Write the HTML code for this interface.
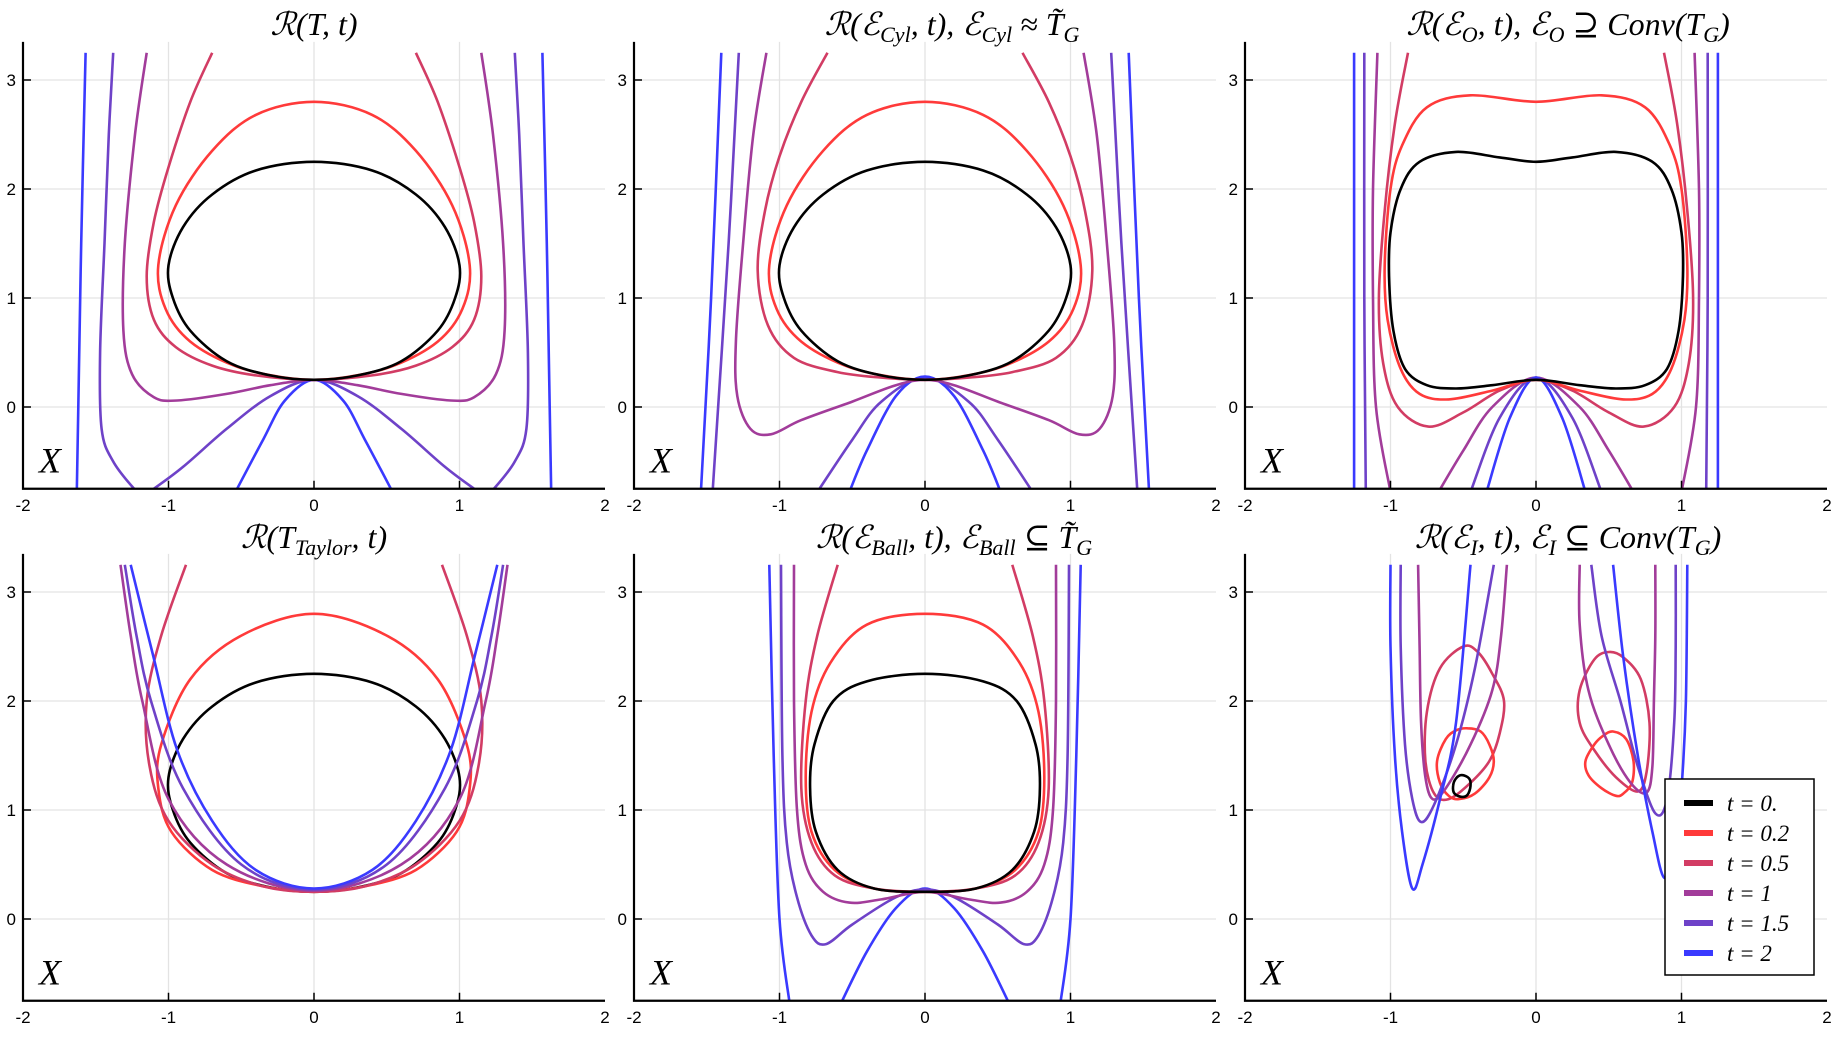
<!DOCTYPE html>
<html><head><meta charset="utf-8">
<style>
html,body{margin:0;padding:0;background:#fff;}
svg{display:block;}
.tick{font-family:"Liberation Sans",sans-serif;font-size:17px;fill:#000;}
.title{font-family:"Liberation Serif","DejaVu Serif",serif;font-style:italic;font-size:32px;fill:#000;}
.xl{font-family:"Liberation Serif","DejaVu Serif",serif;font-style:italic;font-size:36px;fill:#000;}
.leg{font-family:"Liberation Serif","DejaVu Serif",serif;font-style:italic;font-size:23px;fill:#000;}
</style></head>
<body>
<svg id="chart" width="1841" height="1040" viewBox="0 0 1841 1040" xmlns="http://www.w3.org/2000/svg"></svg>
<script>
// ---- data ----
const seriesLabels = ["t = 0.", "t = 0.2", "t = 0.5", "t = 1", "t = 1.5", "t = 2"];
const seriesColors = ["#000000", "#ff3a3a", "#d23c64", "#a23c9a", "#6e42c8", "#3a3aff"];
const xTicks = [-2, -1, 0, 1, 2];
const yTicks = [0, 1, 2, 3];

// Panel 1: R(T,t)  (half curves, mirrored about x=0)
const p1t0 = [[0,2.25],[0.4,2.17],[0.7,1.95],[0.9,1.65],[1.0,1.3],[0.97,1.0],[0.85,0.7],[0.6,0.42],[0.3,0.29],[0,0.25]];
const p1t02 = [[0,2.8],[0.4,2.68],[0.7,2.35],[0.95,1.85],[1.07,1.3],[1.02,0.9],[0.85,0.6],[0.55,0.38],[0.25,0.28],[0,0.25]];
const p1t05 = [[0,0.25],[0.4,0.29],[0.7,0.38],[0.95,0.55],[1.1,0.8],[1.15,1.2],[1.1,1.7],[1.0,2.2],[0.85,2.8],[0.7,3.25]];
const p1t1 = [[0,0.25],[0.3,0.2],[0.6,0.12],[0.94,0.06],[1.1,0.09],[1.25,0.3],[1.31,0.7],[1.3,1.5],[1.23,2.5],[1.15,3.25]];
const p1t15 = [[0,0.25],[0.3,0.1],[0.6,-0.2],[0.9,-0.55],[1.11,-0.76],[1.17,-0.82],[1.23,-0.76],[1.38,-0.5],[1.46,-0.2],[1.47,0.5],[1.44,1.5],[1.41,2.5],[1.38,3.25]];
const p1t2in = [[0,0.25],[0.2,0.06],[0.35,-0.3],[0.54,-0.78]];
const p1t2out = [[1.57,3.25],[1.6,1.5],[1.62,0],[1.63,-0.78]];

// Panel 2: R(E_Cyl,t)
const p2t0 = [[0,2.25],[0.4,2.17],[0.7,1.95],[0.9,1.65],[1.0,1.3],[0.97,1.0],[0.85,0.7],[0.6,0.42],[0.3,0.29],[0,0.25]];
const p2t02 = [[0,2.8],[0.4,2.68],[0.7,2.35],[0.95,1.85],[1.07,1.3],[1.02,0.9],[0.85,0.6],[0.55,0.38],[0.25,0.28],[0,0.25]];
const p2t05 = [[0,0.25],[0.3,0.27],[0.6,0.32],[0.9,0.45],[1.08,0.75],[1.15,1.25],[1.1,1.8],[1.0,2.3],[0.85,2.8],[0.67,3.25]];
const p2t1 = [[0,0.25],[0.2,0.2],[0.5,0.05],[0.85,-0.12],[1.06,-0.25],[1.2,-0.2],[1.29,0.1],[1.30,0.6],[1.25,1.5],[1.18,2.5],[1.09,3.25]];
const p2t15in = [[0,0.27],[0.3,0.05],[0.5,-0.3],[0.74,-0.78]];
const p2t15out = [[1.28,3.25],[1.35,1.5],[1.46,-0.78]];
const p2t2in = [[0,0.28],[0.2,0.1],[0.4,-0.4],[0.52,-0.78]];
const p2t2out = [[1.40,3.25],[1.47,1.0],[1.54,-0.78]];

// Panel 3: R(E_O,t)
const p3t0 = [[0,2.25],[0.25,2.29],[0.55,2.34],[0.8,2.25],[0.93,2.0],[1.0,1.6],[1.01,1.2],[0.98,0.7],[0.9,0.35],[0.75,0.2],[0.55,0.17],[0.3,0.2],[0,0.25]];
const p3t02 = [[0,2.8],[0.45,2.86],[0.75,2.75],[0.92,2.4],[1.0,2.0],[1.04,1.3],[1.02,0.8],[0.93,0.35],[0.8,0.12],[0.6,0.07],[0.3,0.15],[0,0.25]];
const p3t05 = [[0,0.25],[0.25,0.15],[0.5,-0.05],[0.74,-0.18],[0.95,0.0],[1.05,0.4],[1.08,1.0],[1.04,1.8],[0.97,2.6],[0.88,3.25]];
const p3t1in = [[0,0.27],[0.3,0.0],[0.5,-0.4],[0.67,-0.78]];
const p3t1out = [[1.09,3.25],[1.12,2.0],[1.12,1.0],[1.1,0],[1.0,-0.78]];
const p3t15in = [[0,0.27],[0.25,-0.1],[0.45,-0.78]];
const p3t15out = [[1.18,3.25],[1.18,1.0],[1.17,-0.78]];
const p3t2in = [[0,0.27],[0.18,-0.1],[0.34,-0.78]];
const p3t2out = [[1.25,3.25],[1.25,1.0],[1.25,-0.78]];

// Panel 4: R(T_Taylor,t)
const p4t0 = [[0,2.25],[0.4,2.17],[0.7,1.95],[0.9,1.65],[1.0,1.3],[0.97,1.0],[0.85,0.7],[0.6,0.42],[0.3,0.29],[0,0.25]];
const p4t02 = [[0,2.8],[0.5,2.6],[0.85,2.2],[1.05,1.6],[1.07,1.2],[0.98,0.8],[0.7,0.45],[0.35,0.3],[0,0.25]];
const p4t05 = [[0,0.25],[0.35,0.3],[0.7,0.5],[1.0,0.9],[1.13,1.4],[1.15,2.0],[1.05,2.6],[0.88,3.25]];
const p4t1 = [[0,0.26],[0.6,0.5],[1.0,1.1],[1.18,2.0],[1.26,2.6],[1.33,3.25]];
const p4t15 = [[0,0.27],[0.5,0.5],[0.9,1.2],[1.12,2.0],[1.22,2.6],[1.30,3.25]];
const p4t2 = [[0,0.28],[0.4,0.45],[0.7,0.9],[0.94,1.55],[1.11,2.44],[1.26,3.25]];

// Panel 5: R(E_Ball,t)
const p5t0 = [[0,2.25],[0.4,2.18],[0.63,2.0],[0.76,1.6],[0.79,1.2],[0.75,0.8],[0.6,0.45],[0.35,0.28],[0,0.25]];
const p5t02 = [[0,2.8],[0.4,2.7],[0.65,2.35],[0.78,1.9],[0.82,1.3],[0.78,0.8],[0.62,0.45],[0.35,0.28],[0,0.25]];
const p5t05 = [[0,0.25],[0.35,0.28],[0.62,0.4],[0.78,0.7],[0.85,1.2],[0.82,2.0],[0.74,2.6],[0.6,3.25]];
const p5t1 = [[0,0.25],[0.3,0.18],[0.52,0.15],[0.7,0.25],[0.82,0.5],[0.88,1.0],[0.9,2.0],[0.9,3.25]];
const p5t15 = [[0,0.27],[0.2,0.2],[0.5,-0.05],[0.68,-0.23],[0.78,-0.15],[0.88,0.2],[0.95,0.7],[0.98,1.5],[0.99,3.25]];
const p5t2in = [[0,0.28],[0.2,0.1],[0.4,-0.3],[0.58,-0.78]];
const p5t2out = [[1.07,3.25],[1.04,1.5],[1.0,0],[0.93,-0.78]];

// Panel 6: R(E_I,t) (explicit, asymmetric)
const p6t0 = [[-0.51,1.32],[-0.46,1.29],[-0.45,1.22],[-0.47,1.14],[-0.51,1.12],[-0.56,1.15],[-0.57,1.22],[-0.55,1.29]];
const p6t02L = [[-0.47,1.75],[-0.38,1.72],[-0.32,1.6],[-0.29,1.45],[-0.32,1.3],[-0.42,1.15],[-0.53,1.1],[-0.6,1.13],[-0.66,1.25],[-0.68,1.45],[-0.62,1.65],[-0.55,1.73]];
const p6t02R = [[0.53,1.72],[0.62,1.65],[0.67,1.45],[0.66,1.25],[0.6,1.15],[0.55,1.13],[0.45,1.2],[0.36,1.32],[0.34,1.45],[0.4,1.6],[0.46,1.68]];
const p6t05L = [[-0.5,2.5],[-0.4,2.45],[-0.3,2.25],[-0.22,2.0],[-0.25,1.7],[-0.32,1.45],[-0.45,1.25],[-0.6,1.1],[-0.7,1.15],[-0.76,1.45],[-0.75,1.9],[-0.66,2.3]];
const p6t05R = [[0.5,2.45],[0.4,2.38],[0.3,2.1],[0.3,1.8],[0.4,1.55],[0.55,1.3],[0.7,1.17],[0.76,1.35],[0.78,1.8],[0.72,2.2],[0.6,2.4]];
const p6t1L = [[-0.81,3.25],[-0.8,2.5],[-0.79,1.8],[-0.76,1.3],[-0.71,1.1],[-0.62,1.2],[-0.45,1.6],[-0.3,2.1],[-0.24,2.6],[-0.2,3.25]];
const p6t1R = [[0.3,3.25],[0.3,2.7],[0.36,2.1],[0.5,1.6],[0.65,1.25],[0.76,1.16],[0.8,1.4],[0.81,2.0],[0.82,2.6],[0.82,3.25]];
const p6t15L = [[-0.93,3.25],[-0.93,2.5],[-0.9,1.6],[-0.85,1.1],[-0.79,0.89],[-0.7,1.05],[-0.55,1.6],[-0.42,2.3],[-0.29,3.25]];
const p6t15R = [[0.38,3.25],[0.45,2.6],[0.58,2.0],[0.7,1.4],[0.82,0.97],[0.9,1.1],[0.95,1.8],[0.96,2.5],[0.96,3.25]];
const p6t2L = [[-1.0,3.25],[-1.0,2.5],[-0.97,1.5],[-0.92,0.8],[-0.85,0.28],[-0.78,0.5],[-0.66,1.1],[-0.55,1.8],[-0.45,3.25]];
const p6t2R = [[0.53,3.25],[0.6,2.4],[0.7,1.5],[0.8,0.8],[0.88,0.38],[0.95,0.6],[1.0,1.2],[1.03,2.0],[1.04,3.25]];

// ---- layout ----
const NS = "http://www.w3.org/2000/svg";
const svg = document.getElementById("chart");
const UX = 145.5, UY = 109, YMIN = -0.75, YMAX = 3.35;
const panels = [
  {cx:314, cy:407, titleX:314, titleY:35},
  {cx:925, cy:407, titleX:952, titleY:35},
  {cx:1536, cy:407, titleX:1568, titleY:35},
  {cx:314, cy:919, titleX:314, titleY:548},
  {cx:925, cy:919, titleX:954, titleY:548},
  {cx:1536, cy:919, titleX:1568, titleY:548}
];
const panelSeries = [
  [[4,p1t15,"openM"],[5,p1t2in,"openM"],[5,p1t2out,"pair"],[3,p1t1,"openM"],[2,p1t05,"openM"],[1,p1t02,"closedM"],[0,p1t0,"closedM"]],
  [[4,p2t15in,"openM"],[4,p2t15out,"pair"],[5,p2t2in,"openM"],[5,p2t2out,"pair"],[3,p2t1,"openM"],[2,p2t05,"openM"],[1,p2t02,"closedM"],[0,p2t0,"closedM"]],
  [[3,p3t1in,"openM"],[3,p3t1out,"pair"],[4,p3t15in,"openM"],[4,p3t15out,"pair"],[5,p3t2in,"openM"],[5,p3t2out,"pair"],[2,p3t05,"openM"],[1,p3t02,"closedM"],[0,p3t0,"closedM"]],
  [[0,p4t0,"closedM"],[1,p4t02,"closedM"],[2,p4t05,"openM"],[3,p4t1,"openM"],[4,p4t15,"openM"],[5,p4t2,"openM"]],
  [[5,p5t2in,"openM"],[5,p5t2out,"pair"],[4,p5t15,"openM"],[3,p5t1,"openM"],[2,p5t05,"openM"],[1,p5t02,"closedM"],[0,p5t0,"closedM"]],
  [[2,p6t05L,"closed"],[2,p6t05R,"closed"],[1,p6t02L,"closed"],[1,p6t02R,"closed"],[3,p6t1L,"open"],[3,p6t1R,"open"],[4,p6t15L,"open"],[4,p6t15R,"open"],[5,p6t2L,"open"],[5,p6t2R,"open"],[0,p6t0,"closed"]]
];

function el(tag, attrs, parent){const e=document.createElementNS(NS,tag);for(const k in attrs)e.setAttribute(k,attrs[k]);(parent||svg).appendChild(e);return e;}
function mir(a){return a.map(p=>[-p[0],p[1]]);}
function crPath(pts, closed){
  const n=pts.length; if(n<2) return "";
  let d="M"+pts[0][0].toFixed(1)+","+pts[0][1].toFixed(1);
  const get=i=>closed?pts[(i+n)%n]:pts[Math.max(0,Math.min(n-1,i))];
  const segs=closed?n:n-1;
  for(let i=0;i<segs;i++){
    const p0=get(i-1),p1=get(i),p2=get(i+1),p3=get(i+2);
    const c1=[p1[0]+(p2[0]-p0[0])/6,p1[1]+(p2[1]-p0[1])/6];
    const c2=[p2[0]-(p3[0]-p1[0])/6,p2[1]-(p3[1]-p1[1])/6];
    d+="C"+c1[0].toFixed(1)+","+c1[1].toFixed(1)+" "+c2[0].toFixed(1)+","+c2[1].toFixed(1)+" "+p2[0].toFixed(1)+","+p2[1].toFixed(1);
  }
  return closed?d+"Z":d;
}

const defs = el("defs",{});
panels.forEach((P,pi)=>{
  const sx=x=>P.cx+x*UX, sy=y=>P.cy-y*UY;
  const g=el("g",{});
  
  
  const left=sx(-2), right=sx(2), top=sy(YMAX), bottom=sy(YMIN);
  xTicks.forEach(t=>{if(t>-2&&t<2){const l=el("line",{x1:sx(t),x2:sx(t),y1:top,y2:bottom,stroke:"#e3e3e3","stroke-width":1.3},g);
    
    }});
  yTicks.forEach(t=>{const l=el("line",{x1:left,x2:right,y1:sy(t),y2:sy(t),stroke:"#e3e3e3","stroke-width":1.3},g);
    
    });
  const cp=el("clipPath",{id:"clip"+pi},defs);
  el("rect",{x:left,y:top,width:right-left,height:bottom-top},cp);
  const cg=el("g",{"clip-path":"url(#clip"+pi+")"},g);
  
  
  panelSeries[pi].forEach(([si,arr,mode])=>{
    let pieces=[];
    if(mode==="closedM"){const full=[...mir(arr).reverse(),...arr.slice(1)];full.pop();pieces.push([full,true]);}
    else if(mode==="openM"){pieces.push([[...mir(arr).reverse(),...arr.slice(1)],false]);}
    else if(mode==="pair"){pieces.push([arr,false]);pieces.push([mir(arr),false]);}
    else if(mode==="closed"){pieces.push([arr,true]);}
    else pieces.push([arr,false]);
    pieces.forEach(([pts,cl])=>{
      const px=pts.map(p=>[sx(p[0]),sy(p[1])]);
      const path=el("path",{d:crPath(px,cl),fill:"none",stroke:seriesColors[si],"stroke-width":2.6,"stroke-linejoin":"round"},cg);
      
      
    });
  });
  const ax=el("path",{d:`M${left},${top}V${bottom}H${right}`,fill:"none",stroke:"#000","stroke-width":2.2},g);
  
  
  xTicks.forEach(t=>{
    if(t>-2&&t<2){const tk=el("line",{x1:sx(t),x2:sx(t),y1:bottom,y2:bottom-8,stroke:"#000","stroke-width":1.5},g);
      
      }
    const tx=el("text",{x:sx(t),y:bottom+22,"text-anchor":"middle",class:"tick"},g);
    tx.textContent=String(t);
    
    
  });
  yTicks.forEach(t=>{
    const tk=el("line",{x1:left,x2:left+8,y1:sy(t),y2:sy(t),stroke:"#000","stroke-width":1.5},g);
    
    
    const tx=el("text",{x:left-7,y:sy(t)+6,"text-anchor":"end",class:"tick"},g);
    tx.textContent=String(t);
    
    
  });
  const xl=el("text",{x:left+16,y:sy(-0.6),class:"xl"},g);
  xl.textContent="X";
  
  
});

const titleMarkup = [
  'ℛ(T, t)',
  'ℛ(ℰ<tspan baseline-shift="-30%" font-size="22">Cyl</tspan>, t),  ℰ<tspan baseline-shift="-30%" font-size="22">Cyl</tspan> ≈ T̃<tspan baseline-shift="-30%" font-size="22">G</tspan>',
  'ℛ(ℰ<tspan baseline-shift="-30%" font-size="22">O</tspan>, t),  ℰ<tspan baseline-shift="-30%" font-size="22">O</tspan> ⊇ Conv(T<tspan baseline-shift="-30%" font-size="22">G</tspan>)',
  'ℛ(T<tspan baseline-shift="-30%" font-size="22">Taylor</tspan>, t)',
  'ℛ(ℰ<tspan baseline-shift="-30%" font-size="22">Ball</tspan>, t),  ℰ<tspan baseline-shift="-30%" font-size="22">Ball</tspan> ⊆ T̃<tspan baseline-shift="-30%" font-size="22">G</tspan>',
  'ℛ(ℰ<tspan baseline-shift="-30%" font-size="22">I</tspan>, t),  ℰ<tspan baseline-shift="-30%" font-size="22">I</tspan> ⊆ Conv(T<tspan baseline-shift="-30%" font-size="22">G</tspan>)'
];
panels.forEach((P,pi)=>{
  const t=el("text",{x:P.titleX,y:P.titleY,"text-anchor":"middle",class:"title"});
  t.innerHTML=titleMarkup[pi];
  
  
});

const lg=el("g",{});


el("rect",{x:1665,y:779,width:149,height:196,fill:"#fff",stroke:"#000","stroke-width":1.5},lg);
seriesLabels.forEach((lab,i)=>{
  const y=803+i*30;
  const e=el("g",{},lg);
  
  
  el("line",{x1:1684,x2:1713,y1:y,y2:y,stroke:seriesColors[i],"stroke-width":6},e);
  const tx=el("text",{x:1727,y:y+8,class:"leg"},e);
  tx.textContent=lab;
});
</script>
</body></html>
